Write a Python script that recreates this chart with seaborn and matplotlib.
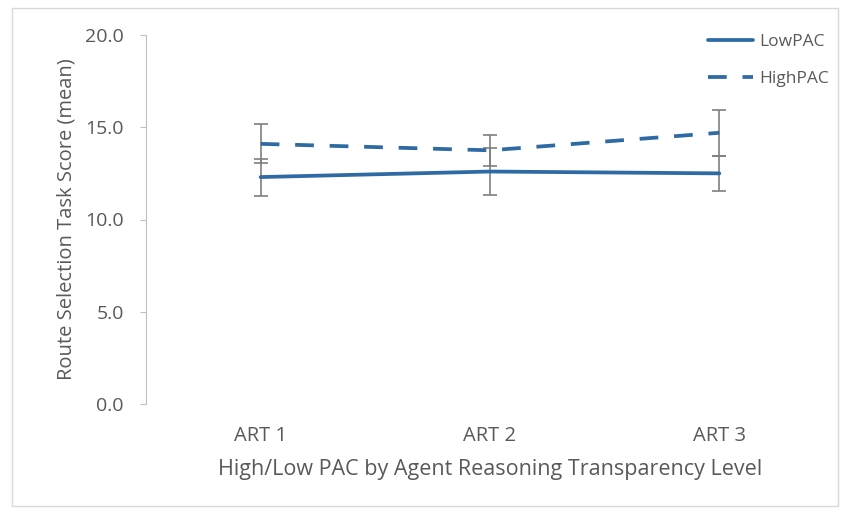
import matplotlib
matplotlib.use("Agg")
import matplotlib.pyplot as plt
import seaborn as sns
import pandas as pd
import numpy as np
from matplotlib.lines import Line2D
from matplotlib.patches import Rectangle

categories = ["ART 1", "ART 2", "ART 3"]
low_pac = [12.3, 12.6, 12.5]
low_err = [1.0, 1.25, 0.95]
high_pac = [14.1, 13.75, 14.7]
high_err = [1.05, 0.85, 1.25]
series_names = ["LowPAC", "HighPAC"]
y_ticks = [0.0, 5.0, 10.0, 15.0, 20.0]

sns.set_theme(style="white")
plt.rcParams['font.family'] = ['Open Sans', 'DejaVu Sans']

df = pd.DataFrame({
    "cat": categories * 2,
    "x": list(range(len(categories))) * 2,
    "score": low_pac + high_pac,
    "err": low_err + high_err,
    "series": [series_names[0]] * 3 + [series_names[1]] * 3,
})

line_color = "#2E6AA3"
text_color = "#595959"
dash = (5, 4.2)

fig = plt.figure(figsize=(8.52, 5.14), dpi=100)
ax = fig.add_axes([146 / 852, 1 - 404 / 514, (834 - 146) / 852, (404 - 35) / 514])

# error bars
for name in series_names:
    sub = df[df.series == name]
    ax.errorbar(sub.x, sub.score, yerr=sub.err, fmt="none", ecolor="#7f7f7f",
                elinewidth=1.2, capsize=5, capthick=1.2, zorder=2)

sns.lineplot(data=df, x="x", y="score", hue="series", style="series",
             palette={series_names[0]: line_color, series_names[1]: line_color},
             dashes={series_names[0]: "", series_names[1]: dash},
             linewidth=2.7, ax=ax, legend=False, zorder=3)

ax.set_xlim(-0.5, 2.5)
ax.set_ylim(0, 20)
ax.set_yticks(y_ticks)
ax.set_yticklabels([f"{v:.1f}" for v in y_ticks])
ax.set_xticks(range(len(categories)))
ax.set_xticklabels(categories)
ax.tick_params(axis="y", which="major", length=4, width=0.8, color="#bfbfbf",
               labelsize=14, labelcolor=text_color, pad=12, left=True)
ax.tick_params(axis="x", length=0, labelsize=14.5, labelcolor=text_color, pad=16)

for s in ["top", "right", "bottom"]:
    ax.spines[s].set_visible(False)
ax.spines["left"].set_color("#bfbfbf")
ax.spines["left"].set_linewidth(0.8)

ax.set_xlabel("High/Low PAC by Agent Reasoning Transparency Level", fontsize=15.5,
              color=text_color, labelpad=9)
ax.set_ylabel("Route Selection Task Score (mean)", fontsize=14.5, color=text_color,
              labelpad=6)

handles = [
    Line2D([0], [0], color=line_color, lw=2.7, linestyle="-"),
    Line2D([0], [0], color=line_color, lw=2.7, linestyle=(0, dash)),
]
leg = ax.legend(handles, series_names, loc="upper right", bbox_to_anchor=(1.015, 1.045),
                frameon=False, fontsize=12.5, labelcolor=text_color, handlelength=2.6,
                labelspacing=1.2, handletextpad=0.35)

fig.patches.append(Rectangle((12 / 852, 1 - 506 / 514), (838 - 12) / 852, (506 - 8) / 514,
                             transform=fig.transFigure, fill=False,
                             edgecolor="#d9d9d9", linewidth=1.0))

fig.savefig("out.png", dpi=100)
